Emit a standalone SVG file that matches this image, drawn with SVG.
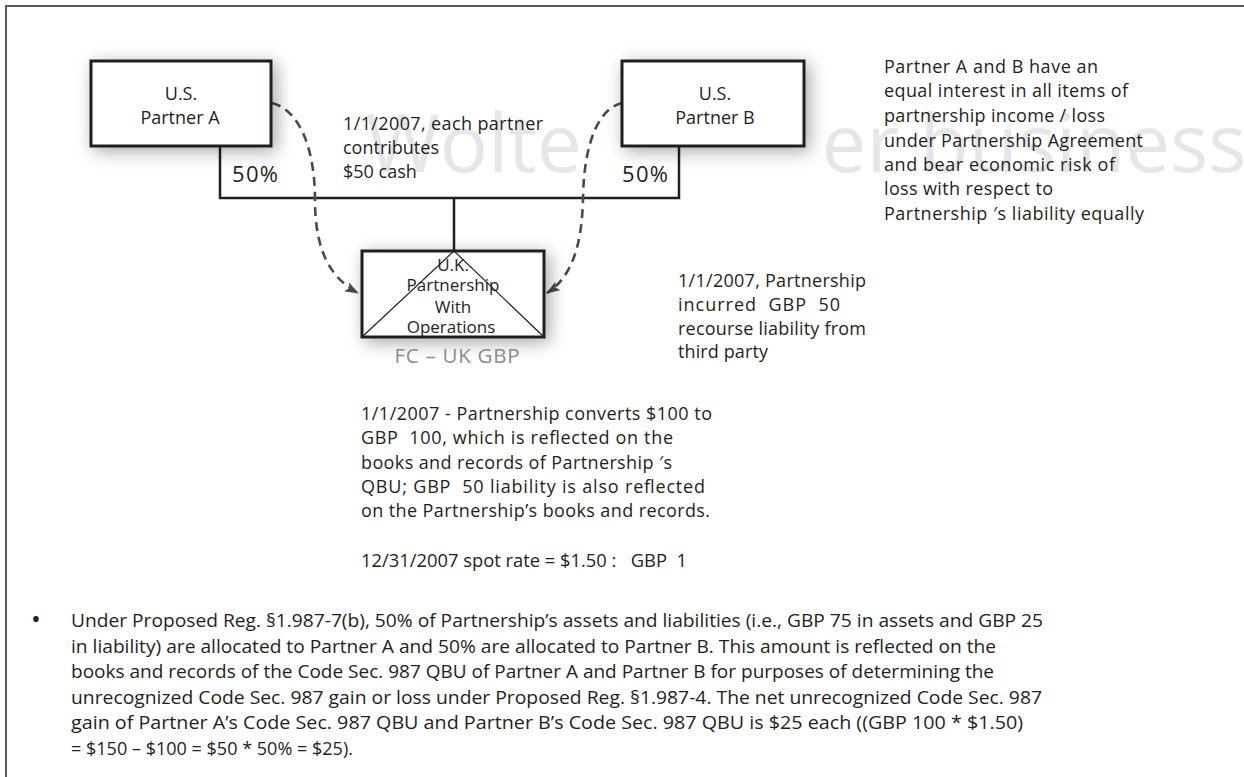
<svg xmlns="http://www.w3.org/2000/svg" width="1244" height="777" viewBox="0 0 1244 777">
<defs>
<style>
.t{font-family:"Open Sans","Liberation Sans",sans-serif;font-size:18px;fill:#231f20;white-space:pre}
.c{text-anchor:middle}
.box{fill:#fff;stroke:#231f20;stroke-width:3}
.ln{fill:none;stroke:#231f20;stroke-width:2.5}
.thin{fill:none;stroke:#231f20;stroke-width:1.2}
.dash{fill:none;stroke:#4a4a4a;stroke-width:2.6;stroke-dasharray:9 6}
.wm{font-family:"Open Sans","Liberation Sans",sans-serif;font-size:80px;fill:#e6e6e8;white-space:pre}
.frame{fill:none;stroke:#5a5a5a;stroke-width:2}
</style>
<filter id="sh" x="-30%" y="-40%" width="160%" height="190%">
<feGaussianBlur in="SourceAlpha" stdDeviation="9"/>
<feOffset dx="4" dy="4"/>
<feComponentTransfer><feFuncA type="linear" slope="0.35"/></feComponentTransfer>
<feMerge><feMergeNode/><feMergeNode in="SourceGraphic"/></feMerge>
</filter>
<marker id="ah" viewBox="0 0 14 10" refX="13" refY="5" markerWidth="14" markerHeight="10" markerUnits="userSpaceOnUse" orient="auto">
<path d="M0,0 L14,5 L0,10 L3,5 Z" fill="#4a4a4a"/>
</marker>
<clipPath id="wmclip"><rect x="0" y="0" width="584" height="777"/><rect x="824" y="0" width="420" height="777"/></clipPath>
</defs>
<rect x="0" y="0" width="1244" height="777" fill="#fff"/>
<g id="watermark">
<text class="wm" x="366" y="172" clip-path="url(#wmclip)">Wolters Klu<tspan dx="-32">wer business</tspan></text>
</g>
<g id="frame">
<path class="frame" d="M6,777 V6 H1244"/>
</g>
<g id="connectors">
<path class="ln" d="M220,146 V198 H679 V146"/>
<path class="ln" d="M454,198 V251"/>
<path class="dash" d="M272,103 C300,110 315,150 315,200 C315,250 330,278 358,293" marker-end="url(#ah)"/>
<path class="dash" d="M622,103 C600,108 584,140 583,198 C582,245 572,277 547,293" marker-end="url(#ah)"/>
</g>
<g id="partnerA">
<rect class="box" x="91" y="61" width="180" height="85" filter="url(#sh)"/>
<text class="t c" x="181" y="100">U.S.</text>
<text class="t c" x="180" y="124">Partner A</text>
</g>
<g id="partnerB">
<rect class="box" x="622" y="61" width="182" height="85" filter="url(#sh)"/>
<text class="t c" x="715" y="100">U.S.</text>
<text class="t c" x="715" y="124">Partner B</text>
</g>
<g id="ukPartnership">
<rect class="box" x="362" y="251" width="182" height="86" filter="url(#sh)"/>
<path class="thin" d="M362,337 L454,251 L544,337"/>
<text class="t c" x="453" y="271" style="font-size:17px">U.K.</text>
<text class="t c" x="453" y="291" style="font-size:17px">Partnership</text>
<text class="t c" x="453" y="313" style="font-size:17px">With</text>
<text class="t c" x="451" y="333" style="font-size:17px">Operations</text>
<text class="t c" x="457" y="363" style="font-size:20.5px;fill:#8c8c8c" textLength="125">FC – UK GBP</text>
</g>
<g id="labels">
<text class="t" x="232" y="182" style="font-size:22px" textLength="46">50%</text>
<text class="t" x="622" y="182" style="font-size:22px" textLength="46">50%</text>
<text class="t" x="343" y="130" textLength="200">1/1/2007, each partner</text>
<text class="t" x="343" y="154">contributes</text>
<text class="t" x="343" y="178">$50 cash</text>
</g>
<g id="noteTopRight">
<text class="t" x="884" y="73" textLength="214">Partner A and B have an</text>
<text class="t" x="884" y="97" textLength="244">equal interest in all items of</text>
<text class="t" x="884" y="122" textLength="221">partnership income / loss</text>
<text class="t" x="884" y="147" textLength="259">under Partnership Agreement</text>
<text class="t" x="884" y="171" textLength="231">and bear economic risk of</text>
<text class="t" x="884" y="195" textLength="169">loss with respect to</text>
<text class="t" x="884" y="220" textLength="260">Partnership ′s liability equally</text>
</g>
<g id="noteLiability">
<text class="t" x="678" y="287" textLength="188">1/1/2007, Partnership</text>
<text class="t" x="678" y="311" textLength="162">incurred  GBP  50</text>
<text class="t" x="678" y="335" textLength="188">recourse liability from</text>
<text class="t" x="678" y="358" textLength="90">third party</text>
</g>
<g id="noteConversion">
<text class="t" x="361" y="420" textLength="351">1/1/2007 - Partnership converts $100 to</text>
<text class="t" x="361" y="444" textLength="312">GBP  100, which is reflected on the</text>
<text class="t" x="361" y="469" textLength="311">books and records of Partnership ′s</text>
<text class="t" x="361" y="493" textLength="344">QBU; GBP  50 liability is also reflected</text>
<text class="t" x="361" y="517" textLength="349">on the Partnership’s books and records.</text>
<text class="t" x="361" y="567" textLength="326" lengthAdjust="spacingAndGlyphs">12/31/2007 spot rate = $1.50 :   GBP  1</text>
</g>
<g id="bulletNote">
<text class="t" x="31" y="628" style="font-size:26px">•</text>
<text class="t" x="71" y="627" style="font-size:19px" textLength="972" lengthAdjust="spacingAndGlyphs">Under Proposed Reg. §1.987-7(b), 50% of Partnership’s assets and liabilities (i.e., GBP 75 in assets and GBP 25</text>
<text class="t" x="71" y="652.5" style="font-size:19px" textLength="925" lengthAdjust="spacingAndGlyphs">in liability) are allocated to Partner A and 50% are allocated to Partner B. This amount is reflected on the</text>
<text class="t" x="71" y="678" style="font-size:19px" textLength="923" lengthAdjust="spacingAndGlyphs">books and records of the Code Sec. 987 QBU of Partner A and Partner B for purposes of determining the</text>
<text class="t" x="71" y="703.5" style="font-size:19px" textLength="971" lengthAdjust="spacingAndGlyphs">unrecognized Code Sec. 987 gain or loss under Proposed Reg. §1.987-4. The net unrecognized Code Sec. 987</text>
<text class="t" x="71" y="729" style="font-size:19px" textLength="952" lengthAdjust="spacingAndGlyphs">gain of Partner A’s Code Sec. 987 QBU and Partner B’s Code Sec. 987 QBU is $25 each ((GBP 100 * $1.50)</text>
<text class="t" x="71" y="754.5" style="font-size:19px" textLength="282" lengthAdjust="spacingAndGlyphs">= $150 – $100 = $50 * 50% = $25).</text>
</g>
</svg>
